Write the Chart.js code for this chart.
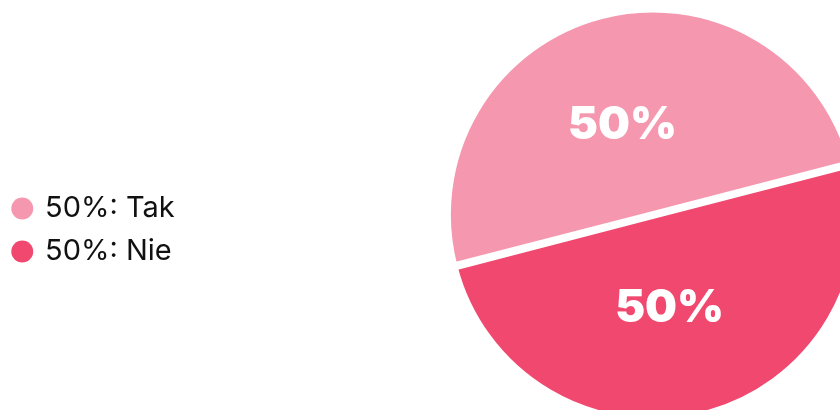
<!DOCTYPE html>
<html><head><meta charset="utf-8">
<script src="https://cdn.jsdelivr.net/npm/chart.js@4.4.0/dist/chart.umd.min.js"></script>
<style>html,body{margin:0;padding:0;background:#fff;overflow:hidden}#wrap{width:840px;height:410px;position:relative}</style>
</head><body><div id="wrap"><canvas id="c"></canvas></div>
<script>
const categories = ['Tak', 'Nie'];
const values = [50, 50];
const percentLabels = ['50%', '50%'];
const colors = ['#F597AE', '#F0486F'];

const FONT = 'Inter, "Open Sans", sans-serif';
const pieCenterX = 653, pieCenterY = 215, pieRadius = 205;

const placePie = {
  id: 'placePie',
  afterLayout(chart) {
    const a = chart.chartArea;
    a.left = pieCenterX - pieRadius; a.right = pieCenterX + pieRadius;
    a.top = pieCenterY - pieRadius; a.bottom = pieCenterY + pieRadius;
    a.width = 2 * pieRadius; a.height = 2 * pieRadius;
  }
};

const sliceLabels = {
  id: 'sliceLabels',
  afterDatasetsDraw(chart) {
    const meta = chart.getDatasetMeta(0);
    const ctx = chart.ctx;
    ctx.save();
    ctx.font = '900 45px ' + FONT;
    ctx.fillStyle = '#ffffff';
    ctx.textAlign = 'center';
    ctx.textBaseline = 'middle';
    meta.data.forEach((arc, i) => {
      const p = arc.getProps(['x', 'y', 'startAngle', 'endAngle', 'outerRadius'], true);
      const mid = (p.startAngle + p.endAngle) / 2;
      const r = p.outerRadius * 0.46;
      ctx.fillText(percentLabels[i], p.x + Math.cos(mid) * r - 7, p.y + Math.sin(mid) * r + 2);
    });
    ctx.restore();
  }
};

new Chart(document.getElementById('c'), {
  type: 'pie',
  data: {
    labels: categories,
    datasets: [{
      data: values,
      backgroundColor: colors,
      borderColor: '#ffffff',
      borderWidth: 7,
      offset: 2,
      hoverOffset: 0
    }]
  },
  options: {
    responsive: true,
    maintainAspectRatio: false,
    animation: false,
    devicePixelRatio: 1,
    rotation: 255.5,
    radius: pieRadius,
    layout: { padding: { top: 50, left: 0 } },
    plugins: {
      tooltip: { enabled: false },
      legend: {
        position: 'left',
        labels: {
          usePointStyle: true,
          boxWidth: 16.5,
          boxHeight: 15.5,
          padding: 14,
          color: '#111111',
          font: { family: FONT, size: 29 },
          generateLabels(chart) {
            const ds = chart.data.datasets[0];
            return chart.data.labels.map((l, i) => ({
              text: percentLabels[i] + ': ' + l,
              fillStyle: ds.backgroundColor[i],
              strokeStyle: ds.backgroundColor[i],
              lineWidth: 0,
              pointStyle: 'circle',
              hidden: false,
              index: i,
              fontColor: '#111111'
            }));
          }
        }
      }
    }
  },
  plugins: [placePie, sliceLabels]
});
</script></body></html>
